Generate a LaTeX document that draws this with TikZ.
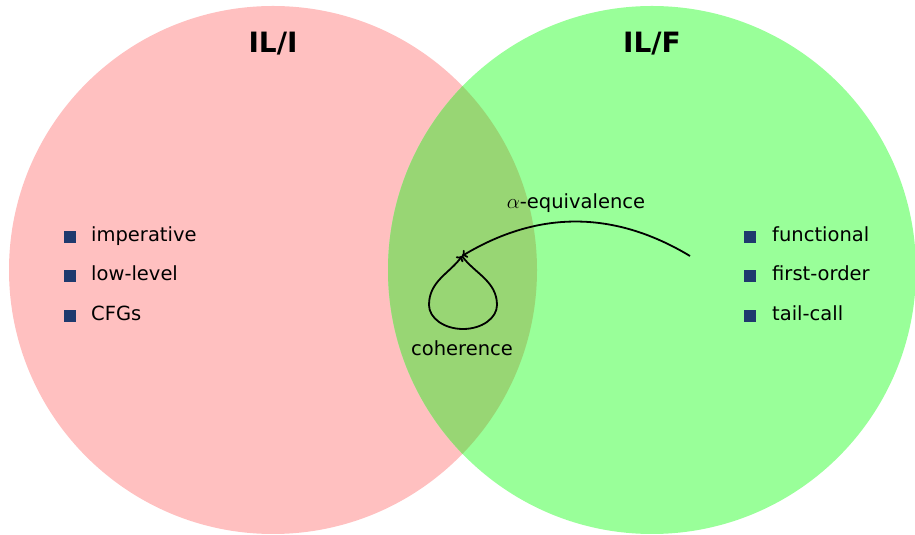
\documentclass[tikz,border=0pt]{standalone}
\usepackage{fontspec}
\setmainfont{DejaVu Sans}
\usetikzlibrary{arrows.meta,calc}
\definecolor{pinkfill}{RGB}{255,192,192}
\definecolor{greenfill}{RGB}{153,255,153}
\definecolor{overlapfill}{RGB}{152,214,116}
\definecolor{bulletblue}{RGB}{31,58,110}
\tikzset{
  title/.style={font=\fontsize{28}{32}\selectfont\bfseries, inner sep=0pt},
  item/.style={font=\fontsize{19.5}{23}\selectfont, anchor=base west, inner sep=0pt},
  bulletsq/.style={fill=bulletblue, minimum size=11.5pt, inner sep=0pt},
  lbl/.style={font=\fontsize{19.5}{23}\selectfont, anchor=base, inner sep=0pt},
  conn/.style={line width=1.8pt, -{To[length=5pt,width=9pt]}}
}
\begin{document}
\begin{tikzpicture}[x=1pt,y=1pt]
\useasboundingbox (0,0) rectangle (915,535);
% circles
\fill[pinkfill] (273,265) circle (264);
\fill[greenfill] (652,265) circle (264);
\begin{scope}
  \clip (273,265) circle (264);
  \fill[overlapfill] (652,265) circle (264);
\end{scope}
% titles
\node[title] (ti) at (273,491) {IL/I};
\node[title] (tf) at (652,491) {IL/F};
% left items
\node[bulletsq] (lb1) at (70,298) {};
\node[bulletsq] (lb2) at (70,259) {};
\node[bulletsq] (lb3) at (70,219) {};
\node[item] (l1) at (91,293.5) {imperative};
\node[item] (l2) at (91,254.5) {low-level};
\node[item] (l3) at (91,214.5) {CFGs};
% right items
\node[bulletsq] (rb1) at (750,298) {};
\node[bulletsq] (rb2) at (750,259) {};
\node[bulletsq] (rb3) at (750,219) {};
\node[item] (r1) at (772,293.5) {functional};
\node[item] (r2) at (772,254.5) {first-order};
\node[item] (r3) at (772,214.5) {tail-call};
% labels
\node[lbl] (alpha) at (576,326) {$\alpha$-equivalence};
\node[lbl] (coh) at (462,179) {coherence};
% connectors
\coordinate (src) at (690,279);
\coordinate (apex) at (462,279);
\coordinate (rp) at (497,230);
\coordinate (bp) at (463,206);
\coordinate (lp) at (429,230);
\draw[conn] (src) to[bend right=31] (apex);
\draw[conn] (apex) .. controls ($(apex)+(12,-17)$) and ($(rp)+(0,24)$) .. (rp)
  .. controls ($(rp)+(0,-13)$) and ($(bp)+(19,0)$) .. (bp)
  .. controls ($(bp)+(-19,0)$) and ($(lp)+(0,-13)$) .. (lp)
  .. controls ($(lp)+(0,24)$) and ($(apex)+(-12,-17)$) .. (apex);
\end{tikzpicture}
\end{document}
